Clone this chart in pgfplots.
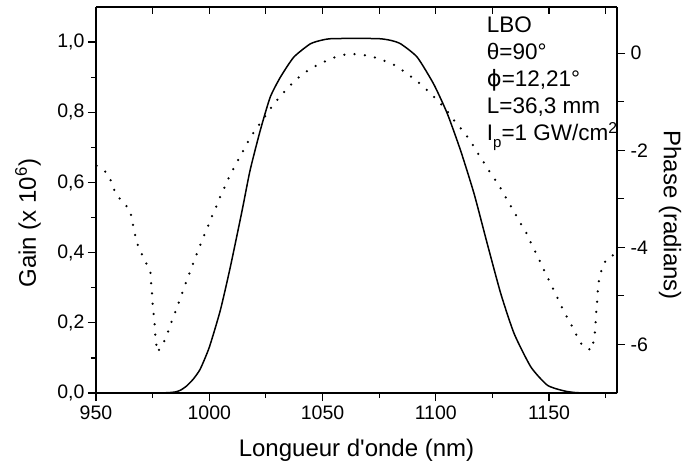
\documentclass[border=0pt]{standalone}
\usepackage{pgfplots}
\pgfplotsset{compat=1.18}
\usepackage{fontspec}
\setmainfont{Liberation Sans}
\newfontfamily\dejavu{DejaVu Sans}
\newcommand{\sq}{\XeTeXglyph\XeTeXcharglyph"0027\relax}

\pgfplotstableread{
x g
950 0
975 0
982 0.001
985 0.003
987.3 0.008
990 0.020
993 0.040
996.0 0.068
1000.0 0.13
1004.9 0.236
1009.3 0.359
1014.5 0.52
1018.0 0.634
1022.5 0.748
1026.9 0.843
1031.4 0.90
1037.3 0.957
1044.6 0.995
1050 1.006
1054.8 1.01
1074.2 1.01
1080 1.005
1084.5 0.995
1091.8 0.957
1099.1 0.88
1105.1 0.796
1111.0 0.69
1116.9 0.568
1122.7 0.426
1128.7 0.283
1134.6 0.169
1142.0 0.074
1149.3 0.022
1156.6 0.006
1162 0.001
1170 0
1180 0
}\gaintable

\pgfplotstableread{
x p
950.3 -2.32
954.4 -2.45
957 -2.66
958.4 -2.87
961.6 -3.07
965 -3.22
965.9 -3.44
966.9 -3.65
967.7 -3.86
969.5 -4.07
971.7 -4.28
974 -4.50
974.3 -4.71
974.7 -4.92
974.9 -5.13
975.4 -5.35
975.8 -5.56
976.1 -5.77
976.6 -5.98
977.1 -6.16
980 -5.95
981.8 -5.74
983.4 -5.53
985.2 -5.31
986.8 -5.10
988.5 -4.89
990.1 -4.67
991.9 -4.46
993.5 -4.25
995.3 -4.04
997 -3.83
999 -3.62
1000.8 -3.40
1002.8 -3.19
1004.6 -2.98
1008.9 -2.54
1013.7 -2.12
1018.6 -1.70
1021.8 -1.49
1028.1 -1.07
1032.1 -0.85
1036.3 -0.64
1040.6 -0.45
1045.4 -0.30
1050.1 -0.19
1054.5 -0.10
1059.1 -0.035
1063.8 -0.02
1068.2 -0.04
1072.6 -0.08
1077.4 -0.16
1082 -0.25
1086.3 -0.39
1091.1 -0.55
1095.7 -0.74
1100 -0.94
1104.3 -1.15
1108 -1.38
1111.4 -1.57
1115 -1.79
1117.6 -1.99
1120.6 -2.21
1123.5 -2.42
1126.5 -2.63
1129.4 -2.84
1131.9 -3.06
1134.6 -3.27
1137.1 -3.48
1139.8 -3.69
1142 -3.91
1145.4 -4.23
1148.6 -4.55
1150.8 -4.76
1153 -4.97
1155.1 -5.18
1157.5 -5.40
1159.9 -5.60
1162.1 -5.81
1164.9 -6.04
1168.8 -6.12
1169.7 -5.93
1170.3 -5.72
1170.6 -5.51
1170.9 -5.29
1171.3 -5.08
1171.6 -4.87
1172.1 -4.65
1173.4 -4.43
1175.3 -4.24
1179 -4.14
}\phasetable

\begin{document}
\begin{tikzpicture}
\useasboundingbox (-96pt,-78.3pt) rectangle (586pt,393pt);
\pgfplotsset{
  common/.style={
    scale only axis, width=521pt, height=386pt,
    xmin=950, xmax=1180,
    axis line style={-, line width=1.3pt},
    every tick/.style={black, line width=1.2pt},
    major tick length=8pt, minor tick length=5pt,
    tick label style={font=\fontsize{19.5}{21}\selectfont},
    /pgf/number format/assume math mode=true,
  }
}
% top axis ticks (inside)
\begin{axis}[common,
  axis x line*=top, axis y line=none,
  ymin=0, ymax=1,
  tick align=inside,
  xtick={950,975,...,1175}, xticklabels={},
  major tick length=7pt,
]
\end{axis}
% gain axis
\begin{axis}[common,
  axis x line*=bottom, axis y line*=left,
  ymin=0, ymax=1.1,
  tick align=outside,
  xtick={950,1000,1050,1100,1150},
  minor xtick={975,1025,1075,1125,1175},
  ytick={0,0.2,0.4,0.6,0.8,1.0},
  minor ytick={0.1,0.3,0.5,0.7,0.9},
  yticklabel style={/pgf/number format/.cd, use comma, fixed, fixed zerofill, precision=1},
  xticklabel style={/pgf/number format/.cd, set thousands separator={}},
  xlabel={Longueur d\sq onde (nm)},
  ylabel={Gain (x 10\textsuperscript{6})},
  every axis x label/.style={at={(axis description cs:0.5,0)}, yshift=-57pt, anchor=center, font=\fontsize{24}{27}\selectfont},
  every axis y label/.style={at={(axis description cs:0,0.44)}, xshift=-68pt, rotate=90, anchor=center, font=\fontsize{24}{27}\selectfont},
  xticklabel shift=1pt,
]
\addplot[black, line width=1.5pt, smooth, tension=0.35] table[x=x, y=g] {\gaintable};
\end{axis}
% phase axis
\begin{axis}[common,
  axis x line=none, axis y line*=right,
  ymin=-7, ymax=0.95,
  tick align=outside,
  ytick={-6,-4,-2,0},
  minor ytick={-5,-3,-1},
  minor tick length=7pt,
  yticklabel style={xshift=2pt},
  ylabel={Phase (radians)},
  every axis y label/.style={at={(axis description cs:1,0.461)}, xshift=53pt, rotate=-90, anchor=center, font=\fontsize{24}{27}\selectfont},
]
\addplot[black, line width=2.5pt, line cap=round, dash pattern=on 0pt off 10.3pt] table[x=x, y=p] {\phasetable};
\node[anchor=north west, align=left, inner sep=0pt, font=\fontsize{22.5}{27}\selectfont]
  at (axis description cs:0.75,0.975)
  {LBO\\θ=90°\\{\dejavu ϕ}=12,21°\\L=36,3 mm\\I\raisebox{-0.55ex}{\fontsize{15}{15}\selectfont p}=1 GW/cm\textsuperscript{2}};
\end{axis}
\end{tikzpicture}
\end{document}
